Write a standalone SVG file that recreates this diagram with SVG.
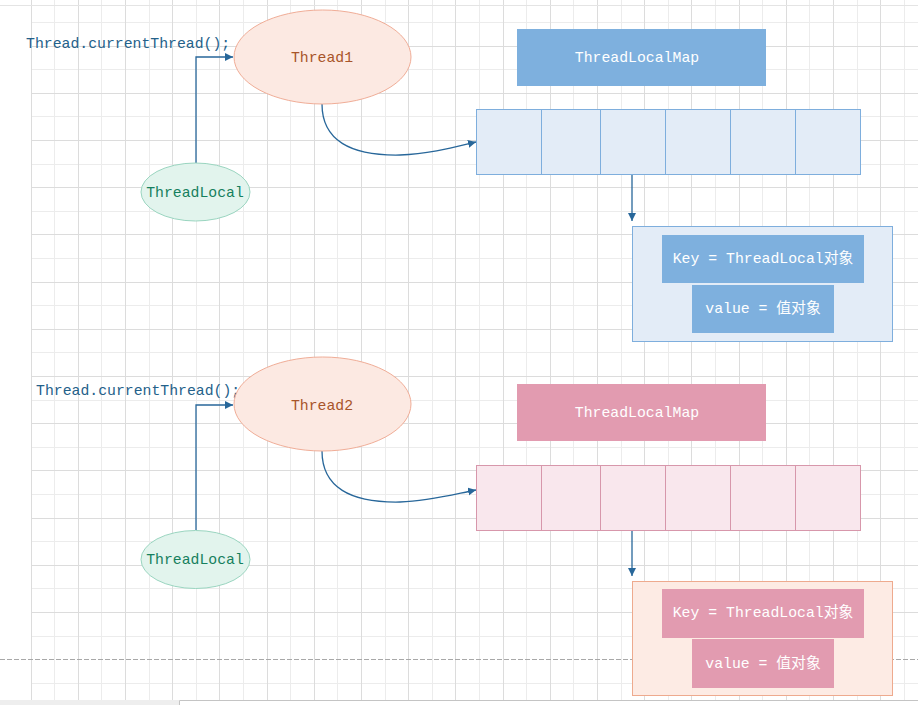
<svg xmlns="http://www.w3.org/2000/svg" width="918" height="705" viewBox="0 0 918 705">
<style>
.minor{stroke:#ececec;stroke-width:1;fill:none}
.major{stroke:#dcdcdc;stroke-width:1;fill:none}
.t{font-family:"Liberation Mono","Noto Sans CJK SC",monospace;font-size:14.8px;text-anchor:middle;dominant-baseline:central}
.code{fill:#24618a;text-anchor:start}
.thread{fill:#fce9e2;stroke:#f0ad97;stroke-width:1}
.threadtxt{fill:#a8552a}
.tl{fill:#e2f4ed;stroke:#9ad5c0;stroke-width:1}
.tltxt{fill:#16805e}
.white{fill:#ffffff}
.bmap{fill:#7eb0de}
.barr{fill:#e3ecf7;stroke:#7eaedd;stroke-width:1}
.pmap{fill:#e29bb0}
.parr{fill:#f9e7ed;stroke:#d797ab;stroke-width:1}
.pbox{fill:#fdebe4;stroke:#eeaa8e;stroke-width:1}
.conn{stroke:#28679a;stroke-width:1.3;fill:none}
</style>
<defs>
<marker id="arr" markerUnits="userSpaceOnUse" markerWidth="10" markerHeight="10" refX="8" refY="4" orient="auto">
<path d="M0,0 L8,4 L0,8 z" fill="#28679a"/>
</marker>
</defs>
<rect x="0" y="0" width="918" height="705" fill="#ffffff"/>
<g id="grid">
<path class="minor" d="M54.5,0V700M101.5,0V700M149.5,0V700M196.5,0V700M243.5,0V700M290.5,0V700M337.5,0V700M385.5,0V700M432.5,0V700M479.5,0V700M526.5,0V700M573.5,0V700M621.5,0V700M668.5,0V700M715.5,0V700M762.5,0V700M809.5,0V700M857.5,0V700M904.5,0V700
M31.5,22.5H918M31.5,69.5H918M31.5,116.5H918M31.5,164.5H918M31.5,211.5H918M31.5,258.5H918M31.5,305.5H918M31.5,352.5H918M31.5,400.5H918M31.5,447.5H918M31.5,494.5H918M31.5,541.5H918M31.5,588.5H918M31.5,636.5H918M31.5,683.5H918"/>
<path class="major" d="M31.5,0V700M78.5,0V700M125.5,0V700M172.5,0V700M219.5,0V700M267.5,0V700M314.5,0V700M361.5,0V700M408.5,0V700M455.5,0V700M503.5,0V700M550.5,0V700M597.5,0V700M644.5,0V700M691.5,0V700M739.5,0V700M786.5,0V700M833.5,0V700M880.5,0V700
M31.5,46.5H918M31.5,93.5H918M31.5,140.5H918M31.5,187.5H918M31.5,234.5H918M31.5,282.5H918M31.5,329.5H918M31.5,376.5H918M31.5,423.5H918M31.5,470.5H918M31.5,518.5H918M31.5,565.5H918M31.5,612.5H918"/>
<path d="M0,5.5H918" stroke="#e4e4e4" stroke-width="1"/>
<path d="M0,659.5H918" stroke="#a8a8a8" stroke-width="1" stroke-dasharray="5,2"/>
<rect x="0" y="700" width="179" height="5" fill="#eeeeee"/>
<path d="M179.5,705V700.5H918" stroke="#c4c4c4" stroke-width="1" fill="none"/>
</g>

<g id="connectors">
<path class="conn" d="M196,163 V57 H233" marker-end="url(#arr)"/>
<path class="conn" d="M322,104 C322,140 350,156 400,155 C430,154 455,147 476,142" marker-end="url(#arr)"/>
<path class="conn" d="M632,174 V221" marker-end="url(#arr)"/>
<path class="conn" d="M196,530 V405 H233" marker-end="url(#arr)"/>
<path class="conn" d="M322,451 C322,487 350,503 400,502 C430,501 455,494 476,490" marker-end="url(#arr)"/>
<path class="conn" d="M632,530 V576" marker-end="url(#arr)"/>
</g>

<g id="code1"><text class="t code" x="26" y="44">Thread.currentThread();</text></g>
<g id="thread1">
<ellipse class="thread" cx="322.5" cy="57" rx="88.5" ry="47"/>
<text class="t threadtxt" x="322" y="58">Thread1</text>
</g>
<g id="threadlocal1">
<ellipse class="tl" cx="195.5" cy="192" rx="54.5" ry="29"/>
<text class="t tltxt" x="195" y="193">ThreadLocal</text>
</g>
<g id="map1">
<rect class="bmap" x="517" y="29" width="249" height="57"/>
<text class="t white" x="637" y="58">ThreadLocalMap</text>
</g>
<g id="array1">
<rect class="barr" x="476.5" y="109.5" width="384" height="65"/>
<path d="M541.5,109.5V174.5M600.5,109.5V174.5M665.5,109.5V174.5M730.5,109.5V174.5M795.5,109.5V174.5" stroke="#7eaedd" stroke-width="1"/>
</g>
<g id="entry1">
<rect class="barr" x="632.5" y="226.5" width="260" height="115"/>
<rect class="bmap" x="662" y="235" width="202" height="48"/>
<text class="t white" x="763" y="259">Key = ThreadLocal对象</text>
<rect class="bmap" x="692" y="285" width="142" height="48"/>
<text class="t white" x="763" y="309">value = 值对象</text>
</g>

<g id="code2"><text class="t code" x="36" y="391">Thread.currentThread();</text></g>
<g id="thread2">
<ellipse class="thread" cx="322.5" cy="404" rx="88.5" ry="47"/>
<text class="t threadtxt" x="322" y="406">Thread2</text>
</g>
<g id="threadlocal2">
<ellipse class="tl" cx="195.5" cy="559.5" rx="54.5" ry="29"/>
<text class="t tltxt" x="195" y="560">ThreadLocal</text>
</g>
<g id="map2">
<rect class="pmap" x="517" y="384" width="249" height="57"/>
<text class="t white" x="637" y="413">ThreadLocalMap</text>
</g>
<g id="array2">
<rect class="parr" x="476.5" y="465.5" width="384" height="65"/>
<path d="M541.5,465.5V530.5M600.5,465.5V530.5M665.5,465.5V530.5M730.5,465.5V530.5M795.5,465.5V530.5" stroke="#d797ab" stroke-width="1"/>
</g>
<g id="entry2">
<rect class="pbox" x="632.5" y="581.5" width="260" height="114"/>
<rect class="pmap" x="662" y="589" width="202" height="49"/>
<text class="t white" x="763" y="613">Key = ThreadLocal对象</text>
<rect class="pmap" x="692" y="639" width="142" height="49"/>
<text class="t white" x="763" y="664">value = 值对象</text>
</g>
</svg>
